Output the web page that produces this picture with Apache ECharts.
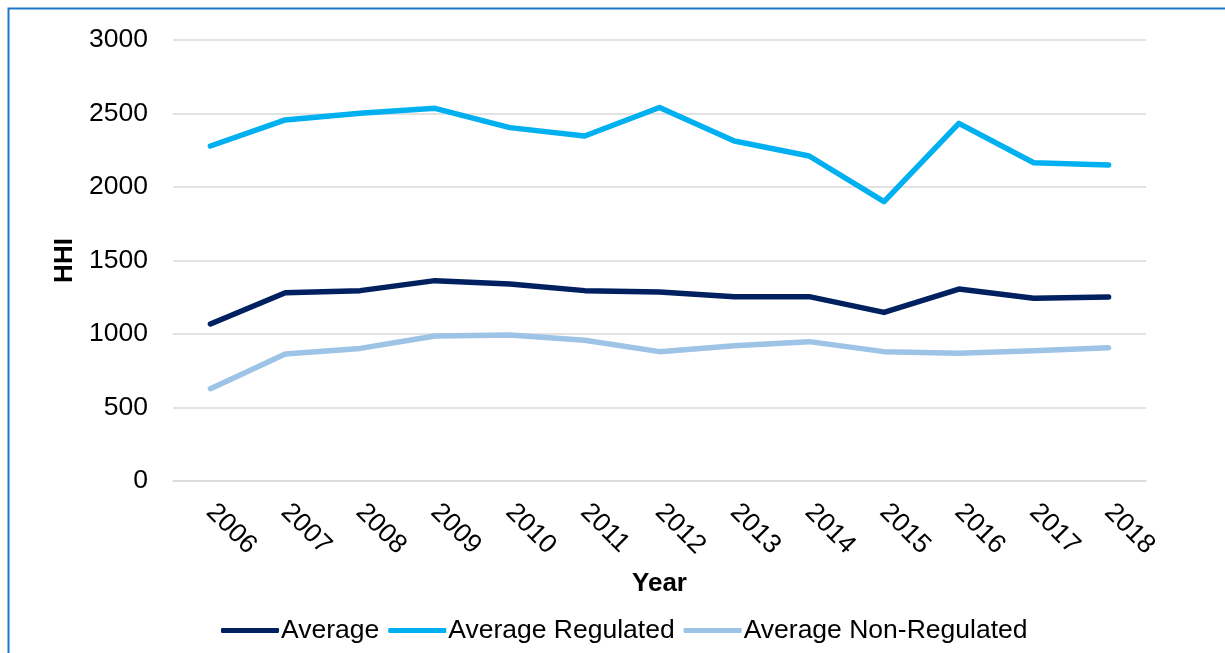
<!DOCTYPE html>
<html>
<head>
<meta charset="utf-8">
<script src="https://cdn.jsdelivr.net/npm/echarts@6/dist/echarts.min.js"></script>
<style>
  html, body { margin: 0; padding: 0; background: #fff; }
  #chart { width: 1225px; height: 653px; }
</style>
</head>
<body>
<div id="chart"></div>
<script>
var years = ['2006', '2007', '2008', '2009', '2010', '2011', '2012', '2013', '2014', '2015', '2016', '2017', '2018'];
var average = [1068, 1281, 1295, 1363, 1340, 1295, 1286, 1254, 1254, 1147, 1306, 1243, 1252];
var averageRegulated = [2279, 2456, 2501, 2535, 2404, 2347, 2541, 2313, 2211, 1900, 2433, 2165, 2150];
var averageNonRegulated = [628, 864, 902, 986, 993, 957, 880, 920, 948, 880, 869, 886, 907];

var fontFam = 'Arial, "Liberation Sans", sans-serif';

function lineSeries(name, data, color) {
	return {
		name: name,
		type: 'line',
		data: data,
		symbol: 'none',
		lineStyle: { color: color, width: 5.5, cap: 'round', join: 'round' },
		itemStyle: { color: color }
	};
}

var option = {
	animation: false,
	graphic: [{
		type: 'rect',
		shape: { x: 8.5, y: 8.5, width: 1400, height: 800 },
		style: { fill: 'none', stroke: '#1F77C8', lineWidth: 2 },
		silent: true
	}],
	grid: { left: 173, right: 79, top: 40, bottom: 172 },
	legend: {
		left: 216,
		top: 612,
		itemWidth: 58,
		itemHeight: 5,
		itemGap: 9,
		icon: 'roundRect',
		textStyle: { fontSize: 26.5, color: '#000', fontFamily: fontFam, padding: [0, 0, 0, -3] },
		data: ['Average', 'Average Regulated', 'Average Non-Regulated']
	},
	xAxis: {
		type: 'category',
		data: years,
		name: 'Year',
		nameLocation: 'middle',
		nameGap: 90,
		nameTextStyle: { fontSize: 26, fontWeight: 'bold', color: '#000', fontFamily: fontFam },
		axisLine: { lineStyle: { color: '#d9d9d9', width: 1.5 } },
		axisTick: { show: false },
		axisLabel: { rotate: -45, margin: 27, fontSize: 26.5, color: '#000', fontFamily: fontFam }
	},
	yAxis: {
		type: 'value',
		min: 0,
		max: 3000,
		interval: 500,
		name: 'HHI',
		nameLocation: 'middle',
		nameGap: 92,
		nameTextStyle: { fontSize: 26, fontWeight: 'bold', color: '#000', fontFamily: fontFam },
		axisLine: { show: false },
		axisTick: { show: false },
		axisLabel: {
			margin: 25, fontSize: 26.5, color: '#000', fontFamily: fontFam,
			formatter: function (v) { return String(v); }
		},
		splitLine: { lineStyle: { color: '#d9d9d9', width: 1.5 } }
	},
	series: [
		lineSeries('Average', average, '#002060'),
		lineSeries('Average Regulated', averageRegulated, '#00B0F0'),
		lineSeries('Average Non-Regulated', averageNonRegulated, '#9DC3E6')
	]
};

var myChart = echarts.init(document.getElementById('chart'));
myChart.setOption(option);
</script>
</body>
</html>
